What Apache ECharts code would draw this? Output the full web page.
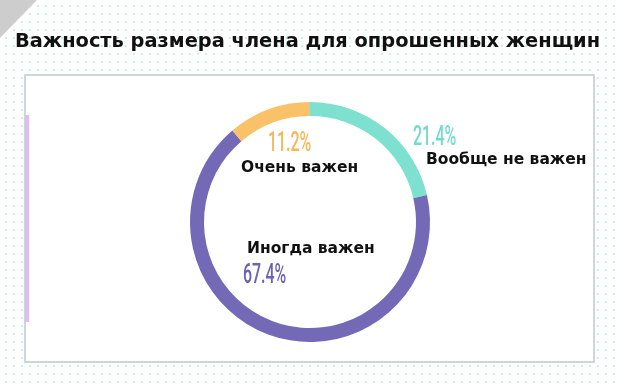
<!DOCTYPE html>
<html>
<head>
<meta charset="utf-8">
<script src="https://cdn.jsdelivr.net/npm/echarts@6/dist/echarts.min.js"></script>
<style>
  html, body { margin: 0; padding: 0; width: 620px; height: 387px; overflow: hidden;
    background-color: #ffffff;
    background-image: radial-gradient(circle, #cdeee9 1px, rgba(255,255,255,0) 1.3px);
    background-size: 8px 8px; background-position: 2px 2px; }
  #chart { width: 620px; height: 387px; }
</style>
</head>
<body>
<div id="chart"></div>
<script>
const titleText = 'Важность размера члена для опрошенных женщин';
const categories = ['Вообще не важен', 'Иногда важен', 'Очень важен'];
const values = [21.4, 67.4, 11.2];
const colors = ['#7ee1cf', '#7469b6', '#f9c269'];
const labelColors = ['#72dcc8', '#6c62b0', '#f4b85a'];

// label placement (left, top) for percent text and category name
const pctPos = [[413, 125], [243, 263], [268, 131]];
const namePos = [[426, 152], [247, 241], [241, 160]];

const chart = echarts.init(document.getElementById('chart'), null, { renderer: 'canvas' });

const graphics = [
  { type: 'polygon', shape: { points: [[0, 0], [37, 0], [0, 38]] }, style: { fill: '#cdcdcd' }, silent: true },
  { type: 'rect', shape: { x: 25, y: 75, width: 569, height: 287 }, style: { fill: '#ffffff', stroke: '#cfd6d7', lineWidth: 2 }, silent: true, z: -10 },
  { type: 'rect', shape: { x: 25, y: 115, width: 4, height: 207 }, style: { fill: '#e3b9f6' }, silent: true }
];

categories.forEach(function (name, i) {
  graphics.push({
    type: 'text', x: pctPos[i][0], y: pctPos[i][1], scaleX: 0.59, scaleY: 1,
    style: { text: values[i].toFixed(1) + '%', fill: labelColors[i],
      font: '500 27px Roboto', textAlign: 'left', textVerticalAlign: 'top' },
    silent: true, z: 20
  });
  graphics.push({
    type: 'text', x: namePos[i][0], y: namePos[i][1],
    style: { text: name, fill: '#111111',
      font: 'bold 15.5px "DejaVu Sans"', textAlign: 'left', textVerticalAlign: 'top' },
    silent: true, z: 20
  });
});

chart.setOption({
  backgroundColor: 'transparent',
  animation: false,
  title: {
    text: titleText, left: 15, top: 32, padding: 0,
    textStyle: { fontFamily: 'DejaVu Sans', fontWeight: 'bold', fontSize: 19.4, color: '#111111' }
  },
  graphic: graphics,
  series: [{
    type: 'pie',
    center: [310, 222],
    radius: [106, 120],
    startAngle: 90,
    clockwise: true,
    silent: true,
    label: { show: false },
    labelLine: { show: false },
    itemStyle: { borderWidth: 0 },
    data: categories.map(function (c, i) {
      return { name: c, value: values[i], itemStyle: { color: colors[i] } };
    })
  }]
});
</script>
</body>
</html>
